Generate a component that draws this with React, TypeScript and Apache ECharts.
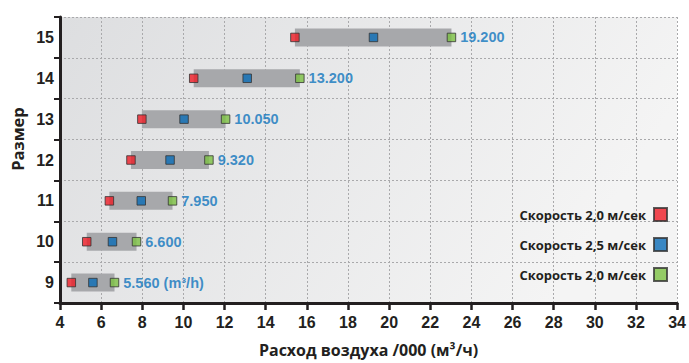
import React, { useEffect, useRef } from "react";
import * as echarts from "echarts";

const sizes = ["9", "10", "11", "12", "13", "14", "15"];
const speed20 = [4.55, 5.3, 6.4, 7.45, 7.98, 10.5, 15.42];
const speed25 = [5.6, 6.55, 7.95, 9.35, 10.03, 13.1, 19.24];
const speed30 = [6.65, 7.72, 9.47, 11.24, 12.05, 15.66, 23.03];
const flowLabels = ["5.560 (m³/h)", "6.600", "7.950", "9.320", "10.050", "13.200", "19.200"];
const legendNames = ["Скорость 2,0 м/сек", "Скорость 2,5 м/сек", "Скорость 2,0 м/сек"];
const xTicks = { min: 4, max: 34, interval: 2 };

const TEXT = "#231f20";
const NUM_FONT = "'Liberation Sans', Arial, sans-serif";
const NAME_FONT = "'Open Sans', 'Liberation Sans', sans-serif";

export default function App() {
  const ref = useRef<HTMLDivElement>(null);
  useEffect(() => {
    if (!ref.current) return;
    const chart = echarts.init(ref.current, undefined, { renderer: "svg" });
    const markerStyle = (color: string) => ({ color, borderColor: "#333", borderWidth: 1 });
    const mk = (vals: number[]) => vals.map((v, i) => [v, i]);
    chart.setOption({
      animation: false,
      grid: {
        left: 60,
        right: 8,
        top: 17,
        bottom: 57,
        show: true,
        borderWidth: 0,
        backgroundColor: new echarts.graphic.LinearGradient(0, 0, 1, 0.3, [
          { offset: 0, color: "#dddee0" },
          { offset: 1, color: "#f4f4f4" },
        ]),
      },
      xAxis: {
        type: "value",
        min: xTicks.min,
        max: xTicks.max,
        interval: xTicks.interval,
        name: "Расход воздуха /000 (м³/ч)",
        nameLocation: "middle",
        nameGap: 39,
        nameTextStyle: { fontFamily: NAME_FONT, fontWeight: "bold", fontSize: 16, color: TEXT },
        axisLine: { show: true, lineStyle: { color: TEXT, width: 3 } },
        axisTick: { show: true, length: 7, lineStyle: { color: TEXT, width: 2.5 } },
        axisLabel: { fontFamily: NUM_FONT, fontWeight: "bold", fontSize: 16, color: TEXT, margin: 11 },
        splitLine: { show: true, lineStyle: { color: "#a9a9ab", type: [2, 2], width: 1 } },
      },
      yAxis: {
        type: "category",
        data: sizes,
        axisLine: { show: true, lineStyle: { color: TEXT, width: 3 } },
        axisTick: { show: true, length: 6, lineStyle: { color: TEXT, width: 2 } },
        axisLabel: { fontFamily: NUM_FONT, fontWeight: "bold", fontSize: 16, color: TEXT, margin: 6 },
        splitLine: { show: true, lineStyle: { color: "#a9a9ab", type: [2, 2], width: 1 } },
      },
      legend: {
        orient: "vertical",
        right: 16,
        top: 202,
        align: "right",
        itemWidth: 13,
        itemHeight: 13,
        itemGap: 15,
        data: ["s20", "s25", "s30"],
        formatter: (n: string) => legendNames[["s20", "s25", "s30"].indexOf(n)],
        textStyle: { fontFamily: NAME_FONT, fontWeight: "bold", fontSize: 13, color: TEXT, padding: [0, 3, 0, 0] },
        selectedMode: false,
      },
      graphic: [
        {
          type: "text",
          x: 17,
          y: 139,
          rotation: Math.PI / 2,
          style: {
            text: "Размер",
            fontFamily: NAME_FONT,
            fontWeight: "bold",
            fontSize: 16.5,
            fill: TEXT,
            align: "center",
            verticalAlign: "middle",
          },
        },
      ],
      series: [
        {
          type: "custom",
          name: "range",
          data: speed20.map((v, i) => [v, speed30[i], i]),
          encode: { x: [0, 1], y: 2 },
          renderItem: (params: any, api: any) => {
            const s = api.coord([api.value(0), api.value(2)]);
            const e = api.coord([api.value(1), api.value(2)]);
            return {
              type: "rect",
              shape: { x: s[0], y: s[1] - 9, width: e[0] - s[0], height: 18 },
              style: { fill: "#a7a8ab" },
            };
          },
          z: 1,
        },
        {
          type: "scatter",
          name: "s20",
          symbol: "rect",
          symbolSize: 8.5,
          data: mk(speed20),
          itemStyle: markerStyle("#ee1c25"),
          z: 3,
        },
        {
          type: "scatter",
          name: "s25",
          symbol: "rect",
          symbolSize: 8.5,
          data: mk(speed25),
          itemStyle: markerStyle("#0a6cb7"),
          z: 3,
        },
        {
          type: "scatter",
          name: "s30",
          symbol: "rect",
          symbolSize: 8.5,
          data: mk(speed30),
          itemStyle: markerStyle("#7cc142"),
          z: 3,
          label: {
            show: true,
            position: "right",
            distance: 4,
            formatter: (p: any) => flowLabels[p.dataIndex],
            fontFamily: NUM_FONT,
            fontWeight: "bold",
            fontSize: 14.5,
            color: "#0f75bd",
          },
        },
      ],
    });
    return () => chart.dispose();
  }, []);
  return <div ref={ref} style={{ width: 689, height: 363, position: "absolute", left: 0, top: 0 }} />;
}
